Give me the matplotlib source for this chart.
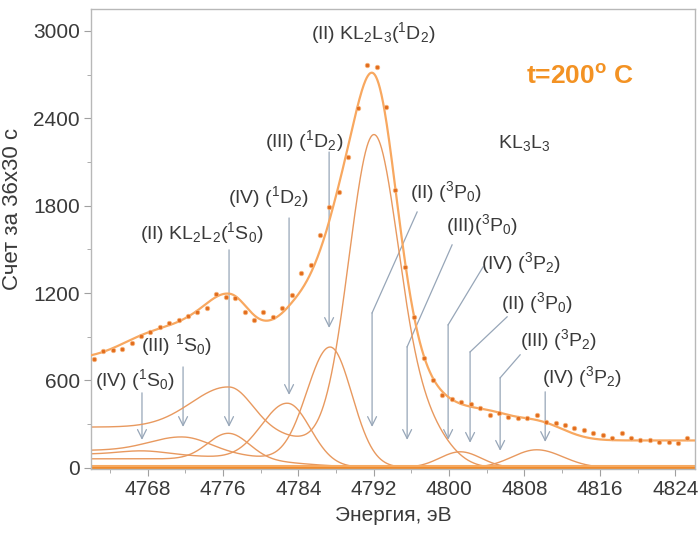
import numpy as np
import matplotlib
matplotlib.use("Agg")
import matplotlib.pyplot as plt
from matplotlib.ticker import MultipleLocator

plt.rcParams['font.family'] = ['Liberation Sans', 'DejaVu Sans']
plt.rcParams['mathtext.fontset'] = 'custom'
plt.rcParams['mathtext.rm'] = 'Liberation Sans'
plt.rcParams['mathtext.it'] = 'Liberation Sans:italic'
plt.rcParams['mathtext.bf'] = 'Liberation Sans:bold'
plt.rcParams['mathtext.sf'] = 'Liberation Sans'

energy_first = 4762.3      # eV, first measured point
energy_step = 1.0          # eV
counts = [745, 800, 812, 818, 855, 905, 935, 965, 995, 1015,
          1040, 1070, 1100, 1195, 1175, 1165, 1070, 1015, 1070, 1037,
          1098, 1188, 1339, 1394, 1600, 1792, 1895, 2135, 2471, 2767,
          2753, 2478, 1908, 1380, 1037, 755, 604, 500, 470, 450,
          440, 410, 364, 378, 350, 343, 343, 364, 316, 309,
          295, 275, 261, 240, 227, 206, 240, 206, 192, 190,
          178, 178, 172, 206]

# ---------------- fitted components ----------------
# background step of each drawn curve: (level, centre, width)
# peaks: (centre, height, sigma_left, sigma_right)
series_II_bg = (280, 4786.3, 3.0)
series_II_peaks = [(4776.7, 286, 4.0, 2.4), (4792.0, 2230, 2.65, 2.65),
                   (4797.5, 250, 2.5, 2.5)]
series_III_bg = (120, 4781.0, 3.5)
series_III_peaks = [(4771.8, 100, 3.5, 2.8), (4787.4, 813, 2.5, 2.3)]
series_IV_bg = (95, 4779.0, 3.5)
series_IV_peaks = [(4767.5, 25, 2.5, 2.5), (4782.9, 420, 2.8, 2.4),
                   (4809.3, 124, 2.6, 2.8)]
series_V_bg = (62, 4784.0, 3.0)
series_V_peaks = [(4776.6, 180, 2.2, 2.2), (4801.2, 110, 2.2, 2.2)]
# parts of the total fit that are not drawn separately
fit_baseline = 188
fit_extra_peaks = [(4767.5, 85, 3.5, 3.5), (4792.6, 120, 1.4, 1.4),
                   (4804.5, 140, 2.3, 2.3)]
zero_lines = [0, 12]

# ---------------- annotations ----------------
label_font = 14
labels = [
    (r'(II) KL$_2$L$_3$($^1$D$_2$)', 4791.94, 2986),
    (r'(III) ($^1$D$_2$)', 4784.6, 2245),
    (r'(IV) ($^1$D$_2$)', 4780.8, 1860),
    (r'(II) KL$_2$L$_2$($^1$S$_0$)', 4773.7, 1613),
    (r'(III) $^1$S$_0$)', 4771.1, 844),
    (r'(IV) ($^1$S$_0$)', 4766.7, 604),
    (r'(II) ($^3$P$_0$)', 4799.7, 1895),
    (r'(III)($^3$P$_0$)', 4803.5, 1668),
    (r'(IV) ($^3$P$_2$)', 4807.6, 1407),
    (r'(II) ($^3$P$_0$)', 4809.3, 1133),
    (r'(III) ($^3$P$_2$)', 4811.6, 879),
    (r'(IV) ($^3$P$_2$)', 4814.1, 625),
    (r'KL$_3$L$_3$', 4808.0, 2231),
]
arrows = [
    [(4767.41, 515), (4767.41, 192)],
    [(4771.77, 693), (4771.77, 281)],
    [(4776.65, 1497), (4776.65, 281)],
    [(4783.02, 1716), (4783.02, 501)],
    [(4787.27, 2169), (4787.27, 961)],
    [(4796.61, 1757), (4791.83, 1064), (4791.83, 281)],
    [(4800.32, 1531), (4795.55, 831), (4795.55, 192)],
    [(4803.61, 1380), (4799.90, 982), (4799.90, 192)],
    [(4806.16, 1037), (4802.23, 796), (4802.23, 172)],
    [(4807.54, 776), (4805.42, 618), (4805.42, 117)],
    [(4810.20, 522), (4810.20, 178)],
]

# ---------------- model evaluation ----------------
E = np.linspace(4762.0, 4826.1, 1500)


def peak(x, c, h, sl, sr):
    s = np.where(x < c, sl, sr)
    return h * np.exp(-(x - c) ** 2 / (2 * s ** 2))


def curve(bg, peaks):
    level, c, w = bg
    y = level / (1 + np.exp((E - c) / w))
    for p in peaks:
        y = y + peak(E, *p)
    return y


cII = curve(series_II_bg, series_II_peaks)
cIII = curve(series_III_bg, series_III_peaks)
cIV = curve(series_IV_bg, series_IV_peaks)
cV = curve(series_V_bg, series_V_peaks)
total = fit_baseline + cII + cIII + cIV + cV
for p in fit_extra_peaks:
    total = total + peak(E, *p)

energies = energy_first + energy_step * np.arange(len(counts))

# ---------------- figure ----------------
fig = plt.figure(figsize=(7.0, 5.35), dpi=100)
ax = fig.add_axes([91 / 700, 1 - 469 / 535, 604 / 700, 460 / 535])

comp_col = '#e8995f'
for c in (cII, cIII, cIV, cV):
    ax.plot(E, c, color=comp_col, lw=1.0, zorder=2)
ax.plot([E[0], E[-1]], [zero_lines[0]] * 2, color='#f08a2a', lw=3.0, zorder=2)
ax.plot([E[0], E[-1]], [zero_lines[1]] * 2, color='#f6aa62', lw=1.5, zorder=2)

ax.plot(E, total, color='#f8a860', lw=1.6, zorder=3)
ax.plot(energies, counts, linestyle='none', marker='o', ms=3.2,
        mfc='#e26c1c', mec='#f5b27a', mew=0.6, zorder=4)

arrow_col = '#97a6b8'
for pts in arrows:
    xs = [p[0] for p in pts]
    ys = [p[1] for p in pts]
    if len(pts) > 2:
        ax.plot(xs[:-1], ys[:-1], color=arrow_col, lw=0.9, zorder=1)
    ax.annotate('', xy=pts[-1], xytext=pts[-2],
                arrowprops=dict(arrowstyle='->', color=arrow_col, lw=0.9,
                                shrinkA=0, shrinkB=0, mutation_scale=16),
                zorder=1)

for txt, x, y in labels:
    ax.text(x, y, txt, fontsize=label_font, color='#3a3a3a',
            ha='center', va='center', zorder=5)

ax.text(4813.9, 2684, r't=200$^{\mathbf{o}}$ C', fontsize=19,
        fontweight='bold', color='#f39223', ha='center', va='center')

ax.set_xlim(4762.0, 4826.1)
ax.set_ylim(-8, 3151)
ax.xaxis.set_minor_locator(MultipleLocator(4))
ax.set_xticks(np.arange(4768, 4825, 8))
ax.yaxis.set_major_locator(MultipleLocator(600))
ax.yaxis.set_minor_locator(MultipleLocator(300))

for sp in ax.spines.values():
    sp.set_color('#b8b8b8')
    sp.set_linewidth(1.0)
ax.tick_params(which='both', direction='out', color='#a0a0a0',
               labelcolor='#3a3a3a', labelsize=15)
ax.tick_params(which='major', length=5, pad=3)
ax.tick_params(which='minor', length=3)

ax.set_xlabel('Энергия, эВ', fontsize=15, color='#3a3a3a', labelpad=5)
ax.set_ylabel('Счет за 36x30 с', fontsize=16, color='#3a3a3a')
ax.yaxis.set_label_coords(-0.112, 0.565)

fig.savefig('out.png', dpi=100)
